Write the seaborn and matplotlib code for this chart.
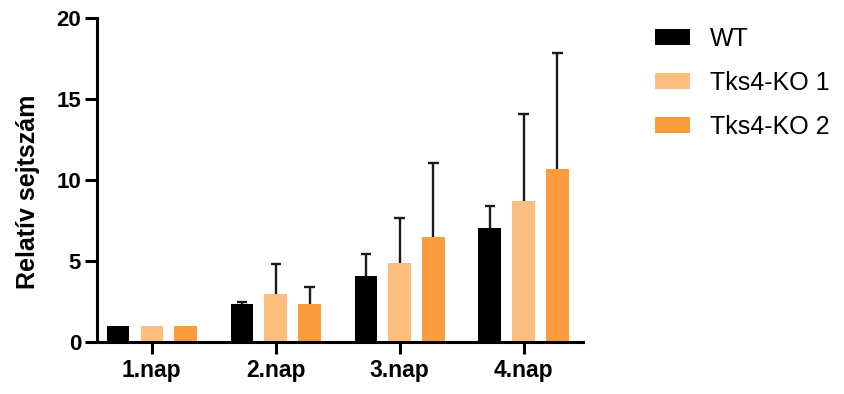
import pandas as pd
import matplotlib
matplotlib.use("Agg")
import matplotlib.pyplot as plt
import seaborn as sns

# Data (mean and upper error)
days = ["1.nap", "2.nap", "3.nap", "4.nap"]
groups = ["WT", "Tks4-KO 1", "Tks4-KO 2"]
wt_mean = [1.0, 2.36, 4.1, 7.02]
wt_err = [0.0, 0.1, 1.32, 1.38]
ko1_mean = [1.0, 2.96, 4.86, 8.73]
ko1_err = [0.0, 1.83, 2.81, 5.37]
ko2_mean = [1.0, 2.34, 6.5, 10.69]
ko2_err = [0.0, 1.06, 4.54, 7.17]

colors = ["#000000", "#FDBE7E", "#FB9D3C"]

rows = []
for g, means, errs in zip(groups, [wt_mean, ko1_mean, ko2_mean], [wt_err, ko1_err, ko2_err]):
    for d, m, e in zip(days, means, errs):
        rows.append({"nap": d, "csoport": g, "ertek": m, "hiba": e})
df = pd.DataFrame(rows)

sns.set_style("ticks", {"axes.edgecolor": "black", "text.color": "black",
                        "xtick.color": "black", "ytick.color": "black",
                        "axes.labelcolor": "black"})
plt.rcParams["font.family"] = ["Liberation Sans", "DejaVu Sans"]

fig = plt.figure(figsize=(8.45, 3.94), dpi=100)
ax = fig.add_axes([0.115, 0.132, 0.575, 0.822])

sns.barplot(data=df, x="nap", y="ertek", hue="csoport", order=days, hue_order=groups,
            palette=colors, width=0.82, gap=0.34, errorbar=None, saturation=1,
            linewidth=0, ax=ax, legend=True)

# upper-only error bars (line + cap at the top only)
for hue_idx, g in enumerate(groups):
    container = ax.containers[hue_idx]
    sub = df[df["csoport"] == g].set_index("nap").loc[days]
    for p, m, e in zip(container.patches, sub["ertek"], sub["hiba"]):
        if e > 0:
            xc = p.get_x() + p.get_width() / 2
            half = p.get_width() * 0.23
            ax.vlines(xc, m, m + e, color="#1a1a1a", linewidth=1.7, zorder=1)
            ax.hlines(m + e, xc - half, xc + half, color="#1a1a1a", linewidth=1.7, zorder=1)

ax.set_ylim(0, 20)
ax.set_yticks([0, 5, 10, 15, 20])
ax.set_xlim(-0.44, 3.48)
ax.set_xlabel("")
ax.set_ylabel("Relatív sejtszám", fontsize=18, fontweight="bold")
ax.yaxis.set_label_coords(-0.117, 0.463)

for lab in ax.get_xticklabels():
    lab.set_fontweight("bold")
    lab.set_fontsize(16.5)
for lab in ax.get_yticklabels():
    lab.set_fontweight("bold")
    lab.set_fontsize(16)

sns.despine(ax=ax)
for side in ["left", "bottom"]:
    ax.spines[side].set_linewidth(2.2)
ax.tick_params(axis="both", width=2.2, length=8.5, direction="out")
ax.tick_params(axis="x", pad=4)
ax.tick_params(axis="y", pad=3)

ax.legend(loc="upper left", bbox_to_anchor=(645 / 845, 1 - 17 / 394),
          bbox_transform=fig.transFigure, borderaxespad=0, frameon=False,
          fontsize=18, handlelength=1.4, handleheight=0.6,
          labelspacing=0.8, handletextpad=0.8)

fig.savefig("out.png", dpi=100)
